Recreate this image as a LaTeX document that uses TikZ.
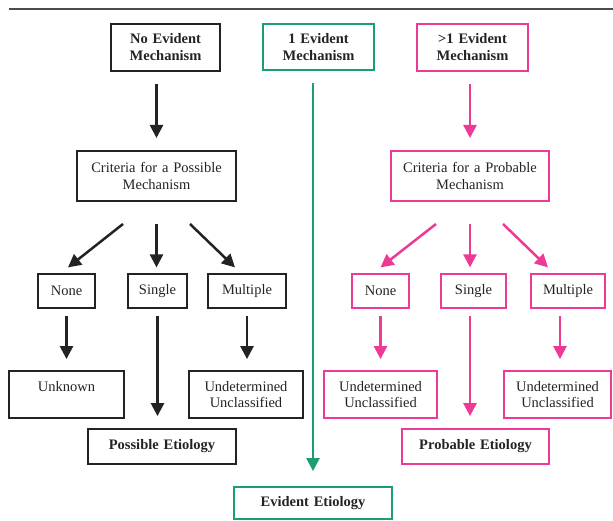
\documentclass[tikz,border=0pt]{standalone}
\usepackage{fontspec}
\setmainfont{Liberation Serif}
\usetikzlibrary{arrows.meta}
\definecolor{evgreen}{RGB}{28,158,112}
\definecolor{evpink}{RGB}{236,58,150}
\definecolor{ink}{RGB}{35,35,35}

\begin{document}
\begin{tikzpicture}[x=1pt, y=-1pt]
\tikzstyle{box}=[rectangle, draw=ink, line width=1.8pt, inner sep=0pt, align=center,
        text=ink, font=\fontsize{14.5}{16.5}\selectfont]
\tikzstyle{head}=[box, line width=2.4pt, font=\fontsize{14.5}{17}\selectfont\bfseries]
\tikzstyle{small}=[box, line width=1.2pt, minimum height=34pt]
\tikzstyle{result}=[box, minimum height=47pt]
\tikzstyle{etiology}=[box, minimum height=35pt, font=\fontsize{14.5}{17}\selectfont\bfseries]
\tikzstyle{arrow}=[-{Triangle[length=13pt, width=13pt]}, line width=2.5pt, color=ink]
\tikzstyle{drop}=[arrow, shorten <=7pt, shorten >=11pt]

\def \top {47.5}
\def \crit {176}
\def \choice {291}
\def \res {394.5}

\useasboundingbox (0,0) rectangle (613,521);
\draw[line width=2.4pt, gray!60!black] (9,9) -- (613,9);

    \node (nomech) [head, text width=109pt, minimum height=47pt] at (165.5,\top)
            {No Evident\\Mechanism};
    \node (onemech) [head, draw=evgreen, line width=2pt, text width=111pt, minimum height=46pt] at (318.5,\top)
            {1 Evident\\Mechanism};
    \node (multmech) [head, draw=evpink, line width=2pt, text width=111pt, minimum height=47pt] at (472.5,\top)
            {>1 Evident\\Mechanism};

    \node (critposs) [box, line width=2pt, text width=159pt, minimum height=50pt] at (156.5,\crit)
            {Criteria for a Possible\\Mechanism};
    \node (critprob) [box, draw=evpink, line width=2pt, text width=158pt, minimum height=50pt] at (470,\crit)
            {Criteria for a Probable\\Mechanism};

    \node (nonep) [small, text width=57pt] at (66.5,\choice) {None};
    \node (singlep) [small, text width=59pt] at (157.5,\choice) {Single};
    \node (multp) [small, text width=78pt] at (247,\choice) {Multiple};
    \node (nonepr) [small, draw=evpink, text width=57pt] at (380.5,\choice) {None};
    \node (singlepr) [small, draw=evpink, text width=65pt] at (473.5,\choice) {Single};
    \node (multpr) [small, draw=evpink, text width=74pt] at (568,\choice) {Multiple};

    \node (unknown) [result, text width=115pt] at (66.5,\res) {Unknown\\\mbox{}};
    \node (undetp) [result, text width=114pt] at (246,\res) {Undetermined\\Unclassified};
    \node (undetpr) [result, draw=evpink, text width=113pt] at (380.5,\res) {Undetermined\\Unclassified};
    \node (undetprr) [result, draw=evpink, text width=107pt] at (557.5,\res) {Undetermined\\Unclassified};

    \node (posset) [etiology, text width=148pt] at (162,446.5) {Possible Etiology};
    \node (probet) [etiology, draw=evpink, text width=147pt] at (475.5,446.5) {Probable Etiology};
    \node (evidet) [etiology, draw=evgreen, text width=158pt, minimum height=32pt] at (313,503) {Evident Etiology};

\draw[arrow, shorten <=12pt, shorten >=12pt] (critposs |- nomech.south) -- (critposs.north);
\draw[arrow, color=evpink, shorten <=12pt, shorten >=12pt] (critprob |- multmech.south) -- (critprob.north);
\draw[arrow, color=evgreen, shorten <=12pt, shorten >=15pt] (evidet |- onemech.south) -- (evidet.north);

\draw[arrow] ([xshift=-33.5pt, yshift=-22pt]critposs.south) -- ([xshift=1.5pt, yshift=6pt]nonep.north);
\draw[arrow] ([yshift=-22pt]critposs.south) -- ([yshift=6pt]critposs.south |- singlep.north);
\draw[arrow] ([xshift=33.5pt, yshift=-22pt]critposs.south) -- ([xshift=-12pt, yshift=6pt]multp.north);
\draw[arrow, color=evpink] ([xshift=-34pt, yshift=-22pt]critprob.south) -- ([yshift=6pt]nonepr.north);
\draw[arrow, color=evpink] ([yshift=-22pt]critprob.south) -- ([yshift=6pt]critprob.south |- singlepr.north);
\draw[arrow, color=evpink] ([xshift=33pt, yshift=-22pt]critprob.south) -- ([xshift=-20pt, yshift=6pt]multpr.north);

\draw[drop] (nonep.south) -- (nonep |- unknown.north);
\draw[drop, shorten >=12pt] (singlep.south) -- (singlep |- posset.north);
\draw[drop] (multp.south) -- (multp.south |- undetp.north);
\draw[drop, color=evpink] (nonepr.south) -- (nonepr |- undetpr.north);
\draw[drop, color=evpink, shorten >=12pt] ([xshift=-3.5pt]singlepr.south) -- ([xshift=-3.5pt]singlepr.south |- probet.north);
\draw[drop, color=evpink] ([xshift=-8pt]multpr.south) -- ([xshift=-8pt]multpr.south |- undetprr.north);

\end{tikzpicture}
\end{document}
